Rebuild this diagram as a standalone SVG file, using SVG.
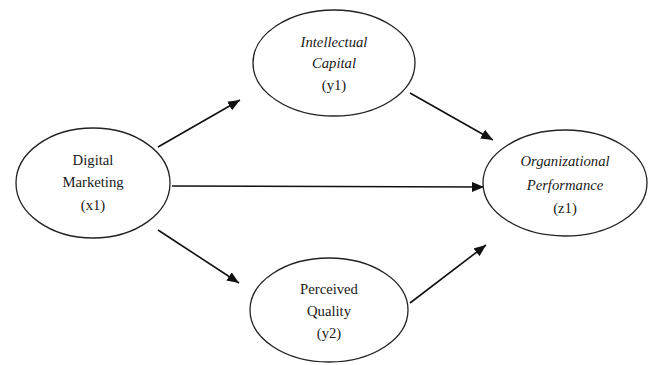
<svg xmlns="http://www.w3.org/2000/svg" width="654" height="365" viewBox="0 0 654 365">
<style>
.n ellipse{fill:#fff;stroke:#222;stroke-width:1.3}
.n text{font-family:'Liberation Serif','Times New Roman','DejaVu Serif',serif;font-size:14.7px;fill:#1a1a1a;text-anchor:middle}
.n text.i{font-style:italic}
#edges line{stroke:#111;stroke-width:1.6;marker-end:url(#ah)}
</style>
<defs>
<marker id="ah" viewBox="0 0 12 10" refX="12" refY="5" markerWidth="12" markerHeight="10" markerUnits="userSpaceOnUse" orient="auto">
<path d="M0,0 L12,5 L0,10 Z" fill="#111"/>
</marker>
</defs>
<rect width="654" height="365" fill="#fff"/>
<g id="edges">
<line x1="158" y1="147" x2="240" y2="100"/>
<line x1="158" y1="230" x2="239" y2="283"/>
<line x1="172" y1="186" x2="484" y2="187"/>
<line x1="410" y1="93" x2="493" y2="140"/>
<line x1="410" y1="303" x2="486" y2="245"/>
</g>
<g id="digital-marketing" class="n">
<ellipse cx="93" cy="183" rx="77" ry="55"/>
<text x="93" y="165">Digital</text>
<text x="93" y="187">Marketing</text>
<text x="93" y="210">(x1)</text>
</g>
<g id="intellectual-capital" class="n">
<ellipse cx="334" cy="63" rx="81" ry="53"/>
<text class="i" x="334" y="47">Intellectual</text>
<text class="i" x="334" y="68">Capital</text>
<text x="334" y="90">(y1)</text>
</g>
<g id="perceived-quality" class="n">
<ellipse cx="329" cy="310" rx="79" ry="52"/>
<text x="329" y="294">Perceived</text>
<text x="329" y="316">Quality</text>
<text x="329" y="338">(y2)</text>
</g>
<g id="organizational-performance" class="n">
<ellipse cx="565" cy="183" rx="82" ry="53"/>
<text class="i" x="565" y="166">Organizational</text>
<text class="i" x="565" y="190">Performance</text>
<text x="565" y="213">(z1)</text>
</g>
</svg>
